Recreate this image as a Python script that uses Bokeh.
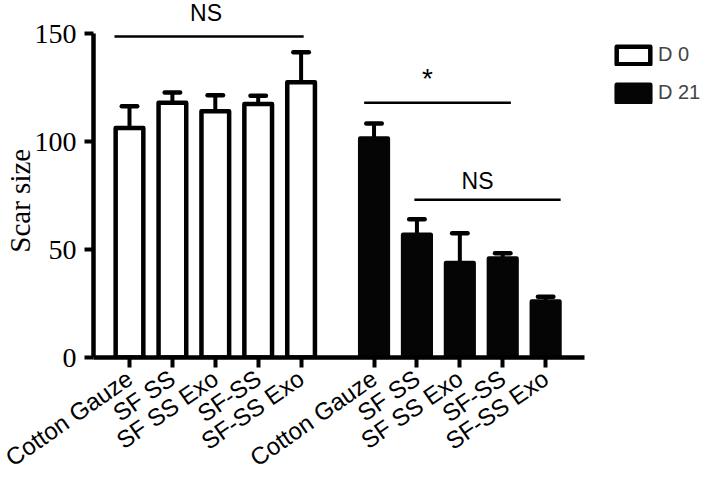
from bokeh.plotting import figure
from bokeh.models import (Range1d, FixedTicker, Label, Legend, LegendItem,
                          ColumnDataSource)
from bokeh.embed import file_html
from bokeh.resources import INLINE

# ---------------- data ----------------
groups = ["D 0", "D 21"]
treatments = ["Cotton Gauze", "SF SS", "SF SS Exo", "SF-SS", "SF-SS Exo"]
d0_mean = [106.3, 117.9, 114.0, 117.4, 127.5]
d0_err = [10.0, 4.8, 7.4, 3.8, 13.8]
d21_mean = [101.4, 56.8, 43.8, 45.8, 25.9]
d21_err = [7.0, 7.2, 13.7, 2.5, 2.2]
y_ticks = [0, 50, 100, 150]
y_label = "Scar size"
sig_labels = ["NS", "*", "NS"]
sig_levels = [148.6, 118.0, 73.1]
sig_start = [0.65, 6.47, 7.64]
sig_end = [5.06, 9.89, 11.05]

# ---------------- layout helpers ----------------
GAP = 5.7
x0 = [round(i + 1.0, 2) for i in range(len(treatments))]
x1 = [round(i + 1.0 + GAP, 2) for i in range(len(treatments))]
BAR_W = 0.645
CAP = 0.18

SERIF = "Liberation Serif"
SANS = "Liberation Sans"

p = figure(frame_width=608, frame_height=357,
           x_range=Range1d(0.161, 14.333), y_range=Range1d(0, 165.3),
           min_border_left=92, min_border_right=0, min_border_top=0,
           min_border_bottom=106, output_backend="svg", toolbar_location=None)
p.outline_line_color = None
p.xgrid.visible = False
p.ygrid.visible = False
p.background_fill_color = "white"

# error bars
def errbars(xs, means, errs):
    ups = [m + e for m, e in zip(means, errs)]
    src = ColumnDataSource(dict(x=xs, m=means, u=ups,
                                xl=[x - CAP for x in xs], xr=[x + CAP for x in xs]))
    p.segment(x0="x", y0="m", x1="x", y1="u", source=src,
              line_color="black", line_width=4)
    p.segment(x0="xl", y0="u", x1="xr", y1="u", source=src,
              line_color="black", line_width=4.5, line_cap="round")

errbars(x0, d0_mean, d0_err)
errbars(x1, d21_mean, d21_err)

src0 = ColumnDataSource(dict(x=x0, top=d0_mean))
src1 = ColumnDataSource(dict(x=x1, top=d21_mean))
r0 = p.vbar(x="x", top="top", width=BAR_W, source=src0, fill_color="white",
            line_color="black", line_width=4.5, line_join="round")
r1 = p.vbar(x="x", top="top", width=BAR_W, source=src1, fill_color="#050505",
            line_color="#050505", line_width=4.5, line_join="round")

# significance lines
sig_src = ColumnDataSource(dict(xs=sig_start, xe=sig_end, y=sig_levels))
p.segment(x0="xs", y0="y", x1="xe", y1="y", source=sig_src,
          line_color="black", line_width=2.5)
txt_y = [159.3, 129.0, 81.5]
txt_dx = [-3, -10, -10]
txt_size = ["23px", "28px", "23px"]
for lbl, s, e, ty, dx, fs in zip(sig_labels, sig_start, sig_end, txt_y, txt_dx, txt_size):
    p.add_layout(Label(x=(s + e) / 2, y=ty, x_offset=dx, text=lbl,
                       text_font=SANS, text_font_size=fs, text_align="center",
                       text_baseline="middle", text_color="black"))

# axes
xa = p.xaxis[0]
xa.ticker = FixedTicker(ticks=x0 + x1)
xa.major_label_overrides = {x: t for x, t in zip(x0 + x1, treatments + treatments)}
xa.bounds = (0.161, 11.6)
xa.major_label_orientation = 0.61
xa.major_label_text_font = SANS
xa.major_label_text_font_size = "24px"
xa.major_label_text_color = "black"
xa.major_label_standoff = 8
xa.axis_line_width = 4.5
xa.major_tick_line_width = 4
xa.major_tick_out = 10
xa.major_tick_in = 0
xa.minor_tick_line_color = None

ya = p.yaxis[0]
ya.ticker = FixedTicker(ticks=y_ticks)
ya.bounds = (0, 150)
ya.major_label_text_font = SERIF
ya.major_label_text_font_size = "28px"
ya.major_label_text_color = "black"
ya.major_label_standoff = 8
ya.axis_line_width = 4.5
ya.major_tick_line_width = 4
ya.major_tick_out = 9
ya.major_tick_in = 0
ya.minor_tick_line_color = None
ya.axis_label = y_label + "\u00a0" * 6
ya.axis_label_text_font = SERIF
ya.axis_label_text_font_style = "normal"
ya.axis_label_text_font_size = "29px"
ya.axis_label_text_color = "black"
ya.axis_label_standoff = -4

legend = Legend(items=[LegendItem(label=groups[0], renderers=[r0]),
                       LegendItem(label=groups[1], renderers=[r1])],
                location=(519, 253), orientation="vertical", padding=0, margin=0,
                spacing=15, glyph_width=42, glyph_height=22, label_height=22,
                label_standoff=4, label_text_font=SANS,
                label_text_font_size="20px", border_line_alpha=0,
                background_fill_alpha=0)
p.add_layout(legend)

open("out.html", "w").write(file_html(p, INLINE))
